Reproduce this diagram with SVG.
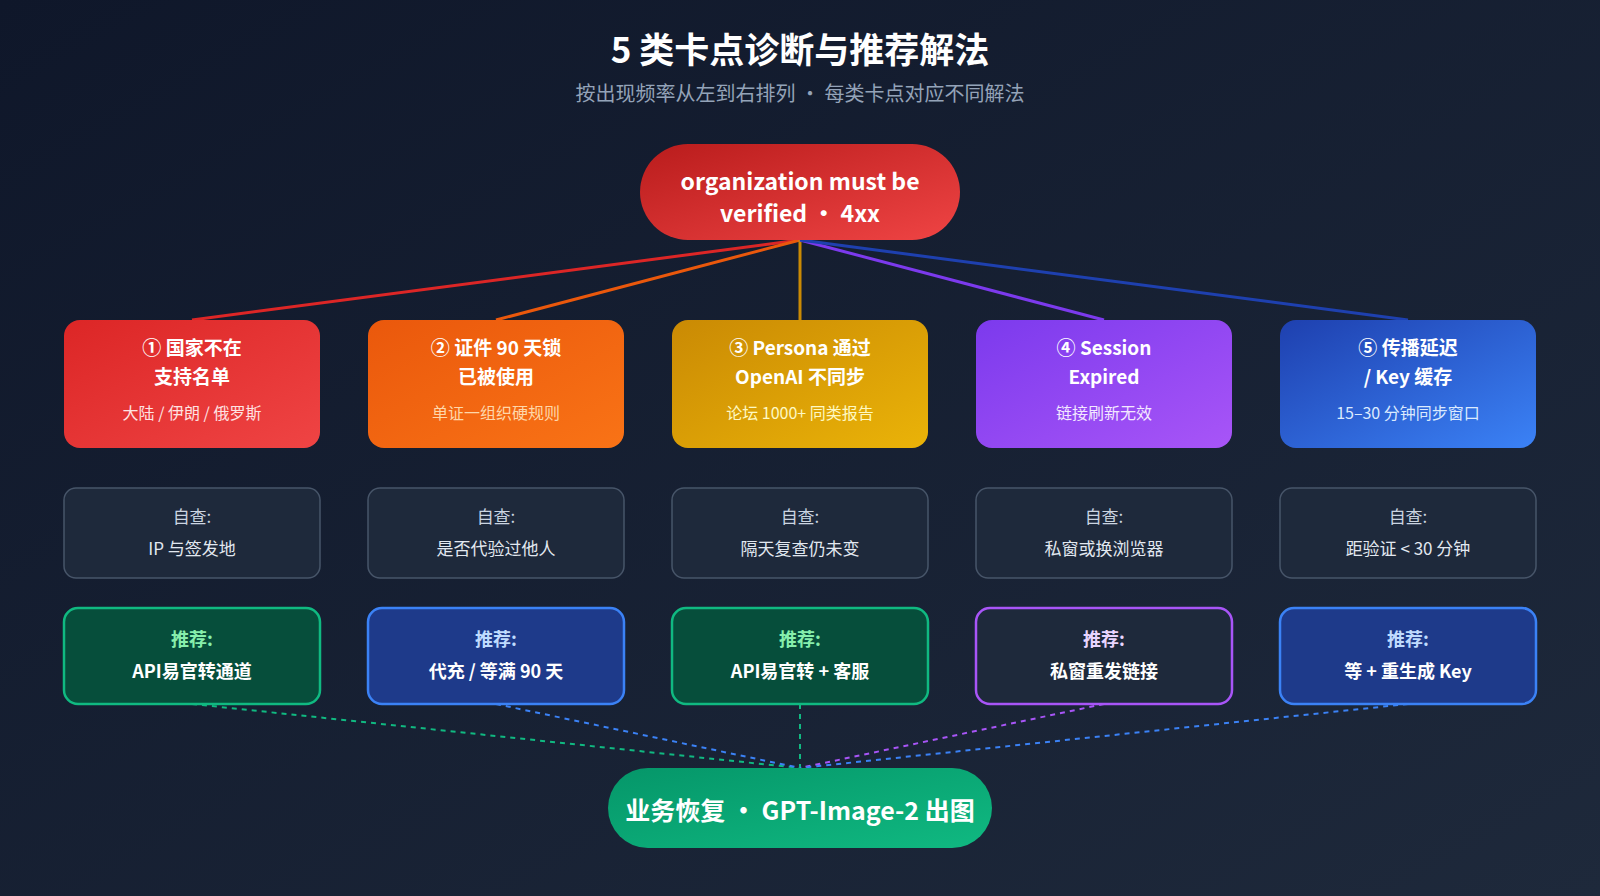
<svg xmlns="http://www.w3.org/2000/svg" width="1600" height="896" viewBox="0 0 1600 896">
<defs>
<linearGradient id="bg" x1="0" y1="0" x2="1" y2="1"><stop offset="0" stop-color="#0f172a"/><stop offset="1" stop-color="#1e293b"/></linearGradient>
<linearGradient id="gTop" x1="0" y1="0" x2="1" y2="1"><stop offset="0" stop-color="#b91c1c"/><stop offset="1" stop-color="#ef4444"/></linearGradient>
<linearGradient id="g1" x1="0" y1="0" x2="1" y2="1"><stop offset="0" stop-color="#dc2626"/><stop offset="1" stop-color="#ef4444"/></linearGradient>
<linearGradient id="g2" x1="0" y1="0" x2="1" y2="1"><stop offset="0" stop-color="#ea580c"/><stop offset="1" stop-color="#f97316"/></linearGradient>
<linearGradient id="g3" x1="0" y1="0" x2="1" y2="1"><stop offset="0" stop-color="#ca8a04"/><stop offset="1" stop-color="#eab308"/></linearGradient>
<linearGradient id="g4" x1="0" y1="0" x2="1" y2="1"><stop offset="0" stop-color="#7c3aed"/><stop offset="1" stop-color="#a855f7"/></linearGradient>
<linearGradient id="g5" x1="0" y1="0" x2="1" y2="1"><stop offset="0" stop-color="#1e40af"/><stop offset="1" stop-color="#3b82f6"/></linearGradient>
<linearGradient id="gBot" x1="0" y1="0" x2="1" y2="1"><stop offset="0" stop-color="#059669"/><stop offset="1" stop-color="#10b981"/></linearGradient>
</defs>
<style>
text{font-family:"Noto Sans CJK SC","Noto Sans",sans-serif;text-anchor:middle}
.t{fill:#fff;font-weight:700;font-size:19px}
.s{font-size:16px}
.chk{fill:#1e293b;stroke:#475569;stroke-width:1.5}
.ct{fill:#cbd5e1;font-size:17px}
.ct2{fill:#e2e8f0;font-size:17px}
.rl{font-size:18px;font-weight:700}
.rv{fill:#fff;font-size:18px;font-weight:700}
.dash{stroke-width:2;stroke-dasharray:5 5;fill:none}
</style>
<rect width="1600" height="896" fill="url(#bg)"/>
<text x="800" y="63" fill="#fff" font-size="35" font-weight="700">5 类卡点诊断与推荐解法</text>
<text x="800" y="101" fill="#94a3b8" font-size="20">按出现频率从左到右排列 · 每类卡点对应不同解法</text>
<g id="connectors">
<line x1="800" y1="240" x2="192" y2="320" stroke="#dc2626" stroke-width="3"/>
<line x1="800" y1="240" x2="496" y2="320" stroke="#ea580c" stroke-width="3"/>
<line x1="800" y1="240" x2="800" y2="320" stroke="#ca8a04" stroke-width="3"/>
<line x1="800" y1="240" x2="1104" y2="320" stroke="#7c3aed" stroke-width="3"/>
<line x1="800" y1="240" x2="1408" y2="320" stroke="#1e40af" stroke-width="3"/>
<path class="dash" stroke="#10b981" d="M192 704L800 768"/>
<path class="dash" stroke="#3b82f6" d="M496 704L800 768"/>
<path class="dash" stroke="#10b981" d="M800 704L800 768"/>
<path class="dash" stroke="#a855f7" d="M1104 704L800 768"/>
<path class="dash" stroke="#3b82f6" d="M1408 704L800 768"/>
</g>
<g id="top"><rect x="640" y="144" width="320" height="96" rx="48" fill="url(#gTop)"/>
<text class="t" x="800" y="190" style="font-size:23px">organization must be</text>
<text class="t" x="800" y="222" style="font-size:23px">verified · 4xx</text></g>
<g id="n1"><rect x="64" y="320" width="256" height="128" rx="16" fill="url(#g1)"/>
<text class="t" x="192" y="355">① 国家不在</text><text class="t" x="192" y="384">支持名单</text><text class="s" x="192" y="419" fill="#fee2e2">大陆 / 伊朗 / 俄罗斯</text></g>
<g id="n2"><rect x="368" y="320" width="256" height="128" rx="16" fill="url(#g2)"/>
<text class="t" x="496" y="355">② 证件 90 天锁</text><text class="t" x="496" y="384">已被使用</text><text class="s" x="496" y="419" fill="#fed7aa">单证一组织硬规则</text></g>
<g id="n3"><rect x="672" y="320" width="256" height="128" rx="16" fill="url(#g3)"/>
<text class="t" x="800" y="355">③ Persona 通过</text><text class="t" x="800" y="384">OpenAI 不同步</text><text class="s" x="800" y="419" fill="#fef9c3">论坛 1000+ 同类报告</text></g>
<g id="n4"><rect x="976" y="320" width="256" height="128" rx="16" fill="url(#g4)"/>
<text class="t" x="1104" y="355">④ Session</text><text class="t" x="1104" y="384">Expired</text><text class="s" x="1104" y="419" fill="#f3e8ff">链接刷新无效</text></g>
<g id="n5"><rect x="1280" y="320" width="256" height="128" rx="16" fill="url(#g5)"/>
<text class="t" x="1408" y="355">⑤ 传播延迟</text><text class="t" x="1408" y="384">/ Key 缓存</text><text class="s" x="1408" y="419" fill="#dbeafe">15–30 分钟同步窗口</text></g>
<g id="c1"><rect class="chk" x="64" y="488" width="256" height="90" rx="12"/><text class="ct" x="192" y="523">自查:</text><text class="ct2" x="192" y="555">IP 与签发地</text></g>
<g id="c2"><rect class="chk" x="368" y="488" width="256" height="90" rx="12"/><text class="ct" x="496" y="523">自查:</text><text class="ct2" x="496" y="555">是否代验过他人</text></g>
<g id="c3"><rect class="chk" x="672" y="488" width="256" height="90" rx="12"/><text class="ct" x="800" y="523">自查:</text><text class="ct2" x="800" y="555">隔天复查仍未变</text></g>
<g id="c4"><rect class="chk" x="976" y="488" width="256" height="90" rx="12"/><text class="ct" x="1104" y="523">自查:</text><text class="ct2" x="1104" y="555">私窗或换浏览器</text></g>
<g id="c5"><rect class="chk" x="1280" y="488" width="256" height="90" rx="12"/><text class="ct" x="1408" y="523">自查:</text><text class="ct2" x="1408" y="555">距验证 &lt; 30 分钟</text></g>
<g id="r1"><rect x="64" y="608" width="256" height="96" rx="14" fill="#064e3b" stroke="#10b981" stroke-width="2.5"/><text class="rl" x="192" y="646" fill="#86efac">推荐:</text><text class="rv" x="192" y="678">API易官转通道</text></g>
<g id="r2"><rect x="368" y="608" width="256" height="96" rx="14" fill="#1e3a8a" stroke="#3b82f6" stroke-width="2.5"/><text class="rl" x="496" y="646" fill="#bfdbfe">推荐:</text><text class="rv" x="496" y="678">代充 / 等满 90 天</text></g>
<g id="r3"><rect x="672" y="608" width="256" height="96" rx="14" fill="#064e3b" stroke="#10b981" stroke-width="2.5"/><text class="rl" x="800" y="646" fill="#86efac">推荐:</text><text class="rv" x="800" y="678">API易官转 + 客服</text></g>
<g id="r4"><rect x="976" y="608" width="256" height="96" rx="14" fill="#1e293b" stroke="#a855f7" stroke-width="2.5"/><text class="rl" x="1104" y="646" fill="#e9d5ff">推荐:</text><text class="rv" x="1104" y="678">私窗重发链接</text></g>
<g id="r5"><rect x="1280" y="608" width="256" height="96" rx="14" fill="#1e3a8a" stroke="#3b82f6" stroke-width="2.5"/><text class="rl" x="1408" y="646" fill="#bfdbfe">推荐:</text><text class="rv" x="1408" y="678">等 + 重生成 Key</text></g>
<g id="bottom"><rect x="608" y="768" width="384" height="80" rx="40" fill="url(#gBot)"/><text class="t" x="800" y="820" style="font-size:25px">业务恢复 · GPT-Image-2 出图</text></g>
</svg>
